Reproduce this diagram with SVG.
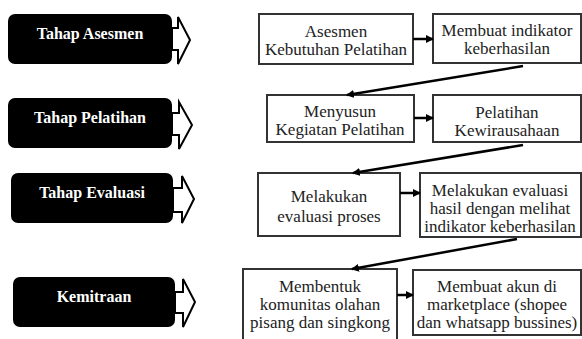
<svg xmlns="http://www.w3.org/2000/svg" width="582" height="339" viewBox="0 0 582 339">
<defs>
<marker id="ah" markerWidth="8" markerHeight="8" refX="7" refY="4" orient="auto" markerUnits="userSpaceOnUse">
<path d="M0,0 L8,4 L0,8 Z" fill="#000"/>
</marker>
<style>
.stage rect{fill:#000;}
.stage text{fill:#fff;font-weight:bold;font-size:16px;text-anchor:middle;}
.barrow{fill:#fff;stroke:#000;stroke-width:2;stroke-linejoin:miter;}
.step rect{fill:#fff;stroke:#333;stroke-width:2;}
.step text{fill:#222;font-size:17px;text-anchor:middle;}
.conn line{stroke:#000;stroke-width:2.5;marker-end:url(#ah);}
</style>
</defs>
<rect width="582" height="339" fill="#fff"/>
<g font-family="'Liberation Serif', 'Times New Roman', 'DejaVu Serif', serif">
<g id="stage-asesmen" class="stage">
<rect x="8" y="14" width="164" height="50" rx="7"/>
<text x="90" y="39">Tahap Asesmen</text>
<polygon class="barrow" points="172,28 178,28 178,17 190,40 178,64 178,50 172,50"/>
</g>
<g id="stage-pelatihan" class="stage">
<rect x="8" y="98" width="164" height="50" rx="7"/>
<text x="90" y="123">Tahap Pelatihan</text>
<polygon class="barrow" points="172,113 179,113 179,102 192,125 179,149 179,135 172,135"/>
</g>
<g id="stage-evaluasi" class="stage">
<rect x="11" y="173" width="162" height="50" rx="7"/>
<text x="92" y="198">Tahap Evaluasi</text>
<polygon class="barrow" points="173,188 182,188 182,176 194,199 182,223 182,212 173,212"/>
</g>
<g id="stage-kemitraan" class="stage">
<rect x="13" y="277" width="162" height="50" rx="7"/>
<text x="94" y="302">Kemitraan</text>
<polygon class="barrow" points="175,292 183,292 183,279 195,302 183,327 183,313 175,313"/>
</g>

<g id="n-asesmen" class="step">
<rect x="259" y="14" width="154" height="50"/>
<text x="336" y="37">Asesmen</text>
<text x="336" y="55">Kebutuhan Pelatihan</text>
</g>
<g id="n-indikator" class="step">
<rect x="433" y="14" width="148" height="49"/>
<text x="507" y="36">Membuat indikator</text>
<text x="507" y="54">keberhasilan</text>
</g>
<g id="n-menyusun" class="step">
<rect x="267" y="95" width="147" height="47"/>
<text x="340" y="117">Menyusun</text>
<text x="340" y="135">Kegiatan Pelatihan</text>
</g>
<g id="n-pelatihan" class="step">
<rect x="433" y="95" width="148" height="47"/>
<text x="507" y="118">Pelatihan</text>
<text x="507" y="136">Kewirausahaan</text>
</g>
<g id="n-evaluasi-proses" class="step">
<rect x="258" y="173" width="142" height="63"/>
<text x="329" y="202">Melakukan</text>
<text x="329" y="222">evaluasi proses</text>
</g>
<g id="n-evaluasi-hasil" class="step">
<rect x="420" y="173" width="161" height="64"/>
<text x="500" y="196">Melakukan evaluasi</text>
<text x="500" y="214">hasil dengan melihat</text>
<text x="500" y="232">indikator keberhasilan</text>
</g>
<g id="n-komunitas" class="step">
<rect x="243" y="269" width="154" height="80"/>
<text x="320" y="292">Membentuk</text>
<text x="320" y="310">komunitas olahan</text>
<text x="320" y="328">pisang dan singkong</text>
</g>
<g id="n-marketplace" class="step">
<rect x="413" y="270" width="168" height="65"/>
<text x="497" y="292">Membuat akun di</text>
<text x="497" y="310">marketplace (shopee</text>
<text x="497" y="328">dan whatsapp bussines)</text>
</g>
</g>
<g id="connectors" class="conn">
<line x1="413" y1="39" x2="433" y2="39"/>
<line x1="523" y1="66" x2="347" y2="95"/>
<line x1="414" y1="118" x2="433" y2="118"/>
<line x1="523" y1="145" x2="353" y2="173"/>
<line x1="400" y1="193" x2="420" y2="193"/>
<line x1="517" y1="239" x2="352" y2="269"/>
<line x1="397" y1="295" x2="413" y2="295"/>
</g>
</svg>
